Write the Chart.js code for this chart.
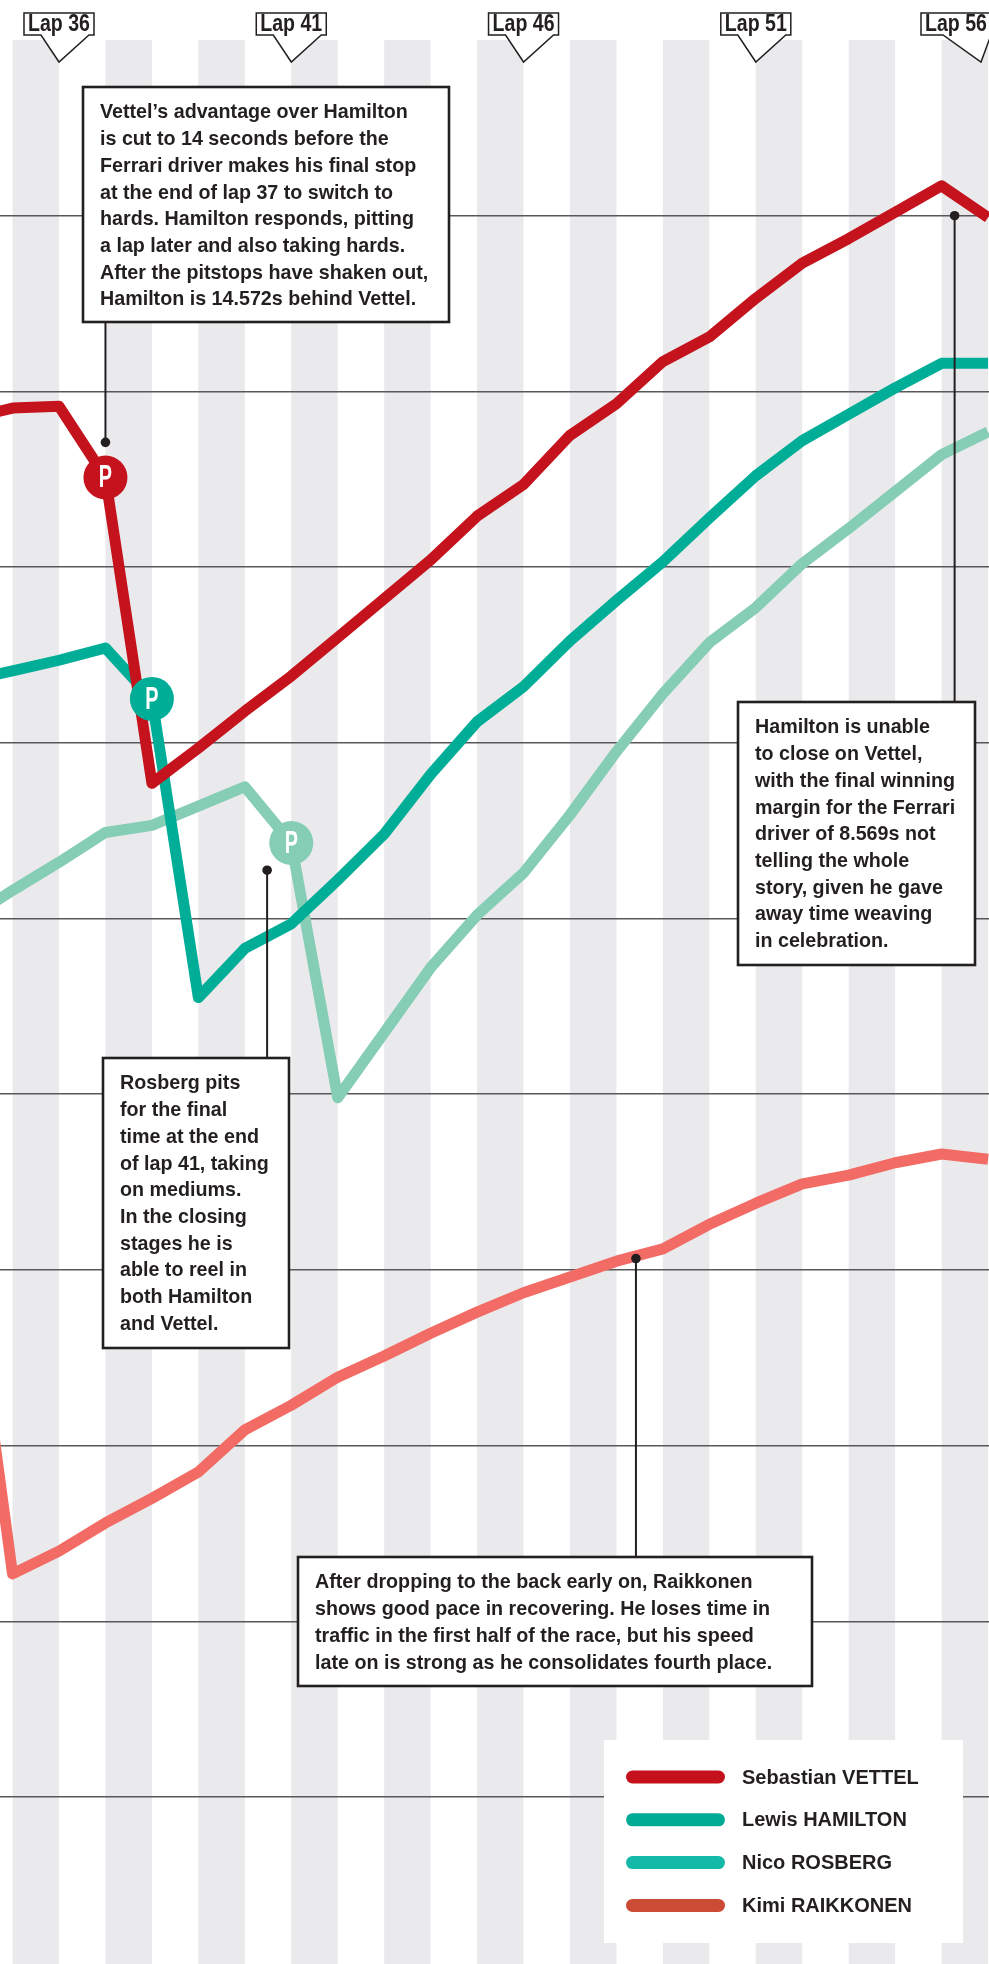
<!DOCTYPE html>
<html>
<head>
<meta charset="utf-8">
<script src="https://cdn.jsdelivr.net/npm/chart.js@4"></script>
<style>
html, body { margin: 0; padding: 0; background: #fff; }
#wrap { position: relative; width: 989px; height: 1964px; }
</style>
</head>
<body>
<div id="wrap"><canvas id="raceChart" width="989" height="1964"></canvas></div>
<script>
// Malaysian GP 2015, closing laps: gap in seconds against a reference pace
const laps = [34, 35, 36, 37, 38, 39, 40, 41, 42, 43, 44, 45, 46, 47, 48, 49, 50, 51, 52, 53, 54, 55, 56];
const vettel = [-11.6, -10.95, -10.85, -14.9, -32.3, -30.3, -28.2, -26.2, -24.0, -21.8, -19.6, -17.1, -15.3, -12.5, -10.7, -8.3, -6.9, -4.7, -2.7, -1.3, 0.2, 1.7, -0.1];
const hamilton = [-26.5, -25.9, -25.3, -24.6, -27.5, -44.5, -41.7, -40.3, -37.8, -35.2, -31.8, -28.8, -26.8, -24.2, -21.9, -19.7, -17.2, -14.8, -12.8, -11.3, -9.8, -8.4, -8.4];
const rosberg = [-40.1, -38.4, -36.8, -35.1, -34.7, -33.6, -32.5, -35.7, -50.2, -46.5, -42.8, -39.8, -37.4, -34.1, -30.5, -27.2, -24.3, -22.3, -19.8, -17.8, -15.7, -13.6, -12.3];
const raikkonen = [-57.7, -77.3, -76.0, -74.4, -73.0, -71.5, -69.1, -67.7, -66.1, -64.9, -63.6, -62.4, -61.3, -60.4, -59.5, -58.8, -57.4, -56.2, -55.1, -54.6, -53.9, -53.4, -53.7];

const driverNames = ['Sebastian VETTEL', 'Lewis HAMILTON', 'Nico ROSBERG', 'Kimi RAIKKONEN'];
const driverSeries = [vettel, hamilton, rosberg, raikkonen];
const pitLaps = [37, 38, 41, null];
const lapMarkers = [36, 41, 46, 51, 56];
const shadedLaps = [35, 37, 39, 41, 43, 45, 47, 49, 51, 53, 55];

// colours
const lineColours = ['#c4131d', '#00ad97', '#86cdb5', '#f26b64'];
const legendColours = ['#c4111b', '#00ab96', '#15b9a8', '#cc4b35'];
const ink = '#231f20';

// annotation boxes: anchor in data units, box in pixels
const notes = [
    { lap: 37, value: -12.9, box: [83, 87, 366, 235], lines: [
        'Vettel\u2019s advantage over Hamilton',
        'is cut to 14 seconds before the',
        'Ferrari driver makes his final stop',
        'at the end of lap 37 to switch to',
        'hards. Hamilton responds, pitting',
        'a lap later and also taking hards.',
        'After the pitstops have shaken out,',
        'Hamilton is 14.572s behind Vettel.'] },
    { lap: 55.28, value: 0, box: [738, 702, 237, 263], lines: [
        'Hamilton is unable',
        'to close on Vettel,',
        'with the final winning',
        'margin for the Ferrari',
        'driver of 8.569s not',
        'telling the whole',
        'story, given he gave',
        'away time weaving',
        'in celebration.'] },
    { lap: 40.48, value: -37.25, box: [103, 1058, 186, 290], lines: [
        'Rosberg pits',
        'for the final',
        'time at the end',
        'of lap 41, taking',
        'on mediums.',
        'In the closing',
        'stages he is',
        'able to reel in',
        'both Hamilton',
        'and Vettel.'] },
    { lap: 48.42, value: -59.35, box: [298, 1557, 514, 129], lines: [
        'After dropping to the back early on, Raikkonen',
        'shows good pace in recovering. He loses time in',
        'traffic in the first half of the race, but his speed',
        'late on is strong as he consolidates fourth place.'] }
];

const sans = '"Liberation Sans", Arial, sans-serif';
const textFont = 'bold 19.7px ' + sans;

// condensed text: squeeze a bold face horizontally
function narrowText(ctx, text, x, y, size, squeeze) {
    ctx.save();
    ctx.translate(x, y);
    ctx.scale(squeeze, 1);
    ctx.font = 'bold ' + size + 'px ' + sans;
    ctx.textAlign = 'center';
    ctx.textBaseline = 'middle';
    ctx.fillText(text, 0, 0);
    ctx.restore();
}

const lapBands = {
    id: 'lapBands',
    beforeDraw(chart) {
        const { ctx, chartArea: a, scales: { x } } = chart;
        ctx.save();
        ctx.fillStyle = '#eaeaed';
        shadedLaps.forEach(l => {
            const x0 = x.getPixelForValue(l);
            const x1 = x.getPixelForValue(l + 1);
            ctx.fillRect(x0, a.top, x1 - x0, a.bottom - a.top);
        });
        ctx.restore();
    }
};

const pitMarkers = {
    id: 'pitMarkers',
    afterDatasetsDraw(chart) {
        const ctx = chart.ctx;
        ctx.save();
        pitLaps.forEach((pit, i) => {
            if (pit === null) return;
            const el = chart.getDatasetMeta(i).data[laps.indexOf(pit)];
            ctx.beginPath();
            ctx.arc(el.x, el.y, 22, 0, Math.PI * 2);
            ctx.fillStyle = lineColours[i];
            ctx.fill();
            ctx.fillStyle = '#fff';
            narrowText(ctx, 'P', el.x, el.y + 1, 32, 0.62);
        });
        ctx.restore();
    }
};

const overlays = {
    id: 'overlays',
    afterDraw(chart) {
        const { ctx, scales: { x, y } } = chart;
        ctx.save();

        // lap flags along the top (the last one is nudged in so its label stays readable)
        lapMarkers.forEach(lap => {
            const cx = x.getPixelForValue(lap);
            const bc = Math.min(cx, chart.width - 33);
            const tip = Math.min(cx, chart.width - 8);
            const tc = Math.min(bc + 11, (bc + tip) / 2 + 6);
            ctx.beginPath();
            ctx.moveTo(bc - 35, 13);
            ctx.lineTo(bc + 35, 13);
            ctx.lineTo(bc + 35, 35);
            ctx.lineTo(tc + 24, 35);
            ctx.lineTo(tip, 62);
            ctx.lineTo(tc - 24, 35);
            ctx.lineTo(bc - 35, 35);
            ctx.closePath();
            ctx.fillStyle = '#fff';
            ctx.fill();
            ctx.lineWidth = 1.5;
            ctx.strokeStyle = ink;
            ctx.stroke();
            ctx.fillStyle = ink;
            narrowText(ctx, 'Lap ' + lap, bc, 25, 23, 0.85);
        });

        // annotation boxes with leader lines
        notes.forEach(n => {
            const [bx, by, bw, bh] = n.box;
            const px = x.getPixelForValue(n.lap);
            const py = y.getPixelForValue(n.value);
            const edge = py < by ? by : by + bh;
            ctx.strokeStyle = ink;
            ctx.lineWidth = 2;
            ctx.beginPath();
            ctx.moveTo(px, py);
            ctx.lineTo(px, edge);
            ctx.stroke();
            ctx.beginPath();
            ctx.arc(px, py, 4.8, 0, Math.PI * 2);
            ctx.fillStyle = ink;
            ctx.fill();

            ctx.fillStyle = '#fff';
            ctx.fillRect(bx, by, bw, bh);
            ctx.lineWidth = 2.6;
            ctx.strokeRect(bx, by, bw, bh);
            ctx.fillStyle = ink;
            ctx.font = textFont;
            ctx.textAlign = 'left';
            ctx.textBaseline = 'middle';
            n.lines.forEach((t, k) => ctx.fillText(t, bx + 17, by + 26 + k * 26.7));
        });

        // legend
        ctx.fillStyle = '#fff';
        ctx.fillRect(604, 1740, 359, 203);
        driverNames.forEach((name, i) => {
            const ry = 1777 + i * 42.8;
            ctx.strokeStyle = legendColours[i];
            ctx.lineWidth = 13;
            ctx.lineCap = 'round';
            ctx.beginPath();
            ctx.moveTo(632.5, ry);
            ctx.lineTo(718.5, ry);
            ctx.stroke();
            ctx.fillStyle = ink;
            ctx.font = 'bold 20px ' + sans;
            ctx.textAlign = 'left';
            ctx.textBaseline = 'middle';
            ctx.fillText(name, 742, ry + 1);
        });
        ctx.restore();
    }
};

const ctx = document.getElementById('raceChart').getContext('2d');
new Chart(ctx, {
    type: 'line',
    data: {
        datasets: driverSeries.map((s, i) => ({
            label: driverNames[i],
            data: laps.map((l, k) => ({ x: l, y: s[k] })),
            borderColor: lineColours[i],
            borderWidth: 11,
            pointRadius: 0,
            tension: 0,
            borderJoinStyle: 'round',
            borderCapStyle: 'butt'
        }))
    },
    options: {
        responsive: false,
        animation: false,
        events: [],
        layout: { padding: { top: 40, left: 0, right: 0, bottom: 0 }, autoPadding: false },
        plugins: { legend: { display: false }, tooltip: { enabled: false } },
        scales: {
            x: {
                type: 'linear', min: 34.73, max: 56.02,
                grid: { display: false },
                ticks: { display: false },
                border: { display: false },
                afterFit(s) { s.height = 0; }
            },
            y: {
                min: -99.5, max: 10,
                ticks: { display: false, stepSize: 10 },
                border: { display: false },
                grid: {
                    drawTicks: false,
                    lineWidth: 1.6,
                    color: c => (c.tick && Math.abs(c.tick.value % 10) < 1e-6 && c.tick.value < 10) ? '#58585a' : 'rgba(0,0,0,0)'
                },
                afterFit(s) { s.width = 0; }
            }
        }
    },
    plugins: [lapBands, pitMarkers, overlays]
});
</script>
</body>
</html>
